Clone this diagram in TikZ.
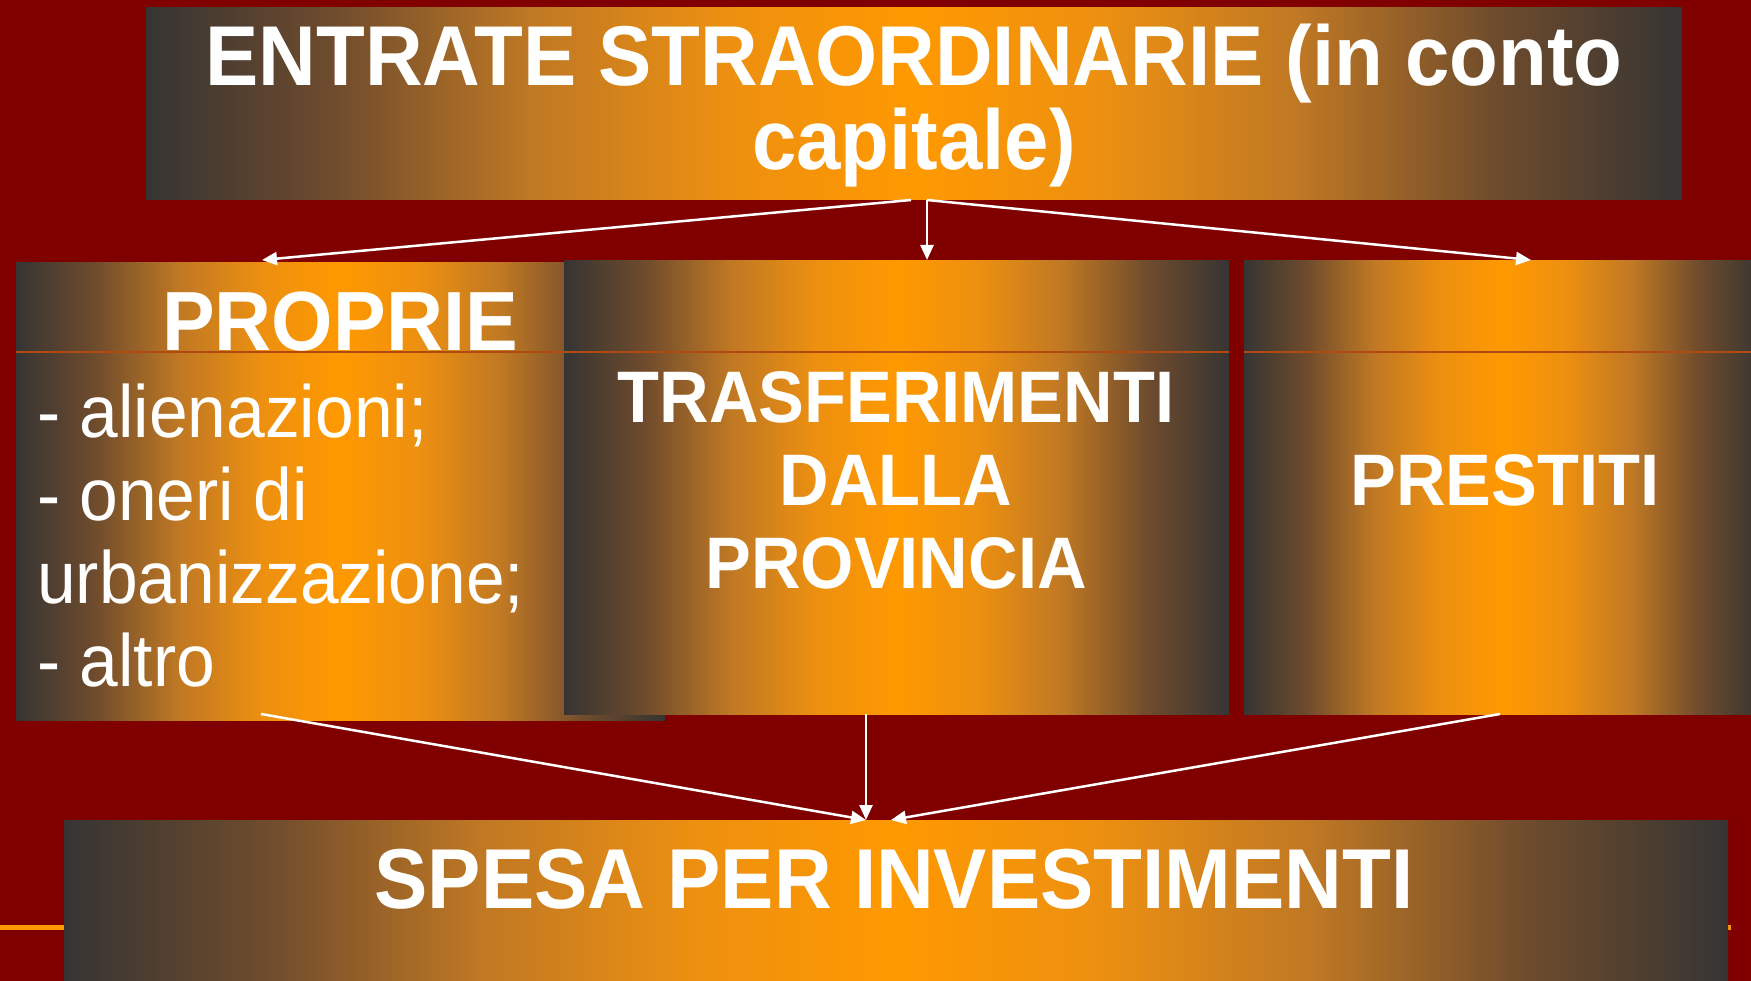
\documentclass[tikz,border=0pt]{standalone}
\usepackage{fontspec}
\setmainfont{Liberation Sans}
\newfontfamily\cf[FakeStretch=0.94]{Liberation Sans}
\usetikzlibrary{arrows.meta,calc}
\definecolor{bg}{HTML}{800000}
\definecolor{dk}{HTML}{363433}
\definecolor{org}{HTML}{FF9900}
\definecolor{thinl}{HTML}{B04A10}
\pgfdeclarehorizontalshading{boxshade}{100bp}{%
  rgb(0bp)=(0.212,0.204,0.2);
  rgb(25bp)=(0.212,0.204,0.2);
  rgb(31bp)=(0.43,0.294,0.176);
  rgb(37.5bp)=(0.75,0.47,0.14);
  rgb(44bp)=(0.93,0.565,0.065);
  rgb(50bp)=(1,0.6,0);
  rgb(56bp)=(0.93,0.565,0.065);
  rgb(62.5bp)=(0.75,0.47,0.14);
  rgb(69bp)=(0.43,0.294,0.176);
  rgb(75bp)=(0.212,0.204,0.2);
  rgb(100bp)=(0.212,0.204,0.2)}
\begin{document}
\begin{tikzpicture}[x=1pt,y=-1pt,
  box/.style={rectangle, inner sep=0pt, outer sep=0pt, anchor=north west,
    shading=boxshade},
  big/.style={text=white, inner sep=0pt, anchor=base, font=\cf\bfseries\fontsize{85}{85}\selectfont},
  mid/.style={text=white, inner sep=0pt, anchor=base, font=\cf\bfseries\fontsize{73}{73}\selectfont},
  item/.style={text=white, inner sep=0pt, anchor=base west, font=\cf\fontsize{74}{74}\selectfont},
  arr/.style={draw=white, line width=2.5pt, -{Triangle[length=15pt,width=13pt]}}]
\clip (0,0) rectangle (1751,981);
\fill[bg] (0,0) rectangle (1751,981);
% boxes
\node[box, minimum width=1536pt, minimum height=192pt] (top) at (146,8) {};
\draw[org, line width=5pt] (0,927) -- (1731,927);
\node[box, minimum width=649pt, minimum height=457pt] (prop) at (16,263) {};
\node[box, minimum width=665pt, minimum height=453pt] (trasf) at (564,261) {};
\node[box, minimum width=518pt, minimum height=453pt] (prest) at (1244,261) {};
\draw[thinl, line width=1.4pt] (16,352) -- (1229,352);
\draw[thinl, line width=1.4pt] (1244,352) -- (1751,352);
\node[box, minimum width=1664pt, minimum height=200pt] (spesa) at (64,820) {};
% texts
\node[big, font=\cf\bfseries\fontsize{84.9}{84.9}\selectfont] (t1) at (914,86) {ENTRATE STRAORDINARIE (in conto};
\node[big, font=\cf\bfseries\fontsize{84.9}{84.9}\selectfont] (t2) at (914,170) {capitale)};
\node[big, font=\cf\bfseries\fontsize{84}{84}\selectfont] (p) at (340,351) {PROPRIE};
\node[item] (i1) at (37,437) {- alienazioni;};
\node[item] (i2) at (37,520) {- oneri di};
\node[item] (i3) at (37,603) {urbanizzazione;};
\node[item] (i4) at (37,686) {- altro};
\node[mid] (m1) at (896,422) {TRASFERIMENTI};
\node[mid] (m2) at (896,505) {DALLA};
\node[mid] (m3) at (896,588) {PROVINCIA};
\node[mid] (pr) at (1505,505) {PRESTITI};
\node[big] (sp) at (894,908) {SPESA PER INVESTIMENTI};
% connector end points
\coordinate (a0) at ($(top.south)+(-3,0)$);
\coordinate (a1) at ($(top.south)+(13,0)$);
\coordinate (e1) at (262,260);
\coordinate (e2) at ($(top.south)+(13,60)$);
\coordinate (e3) at (1531,260);
\coordinate (b1) at (261,714);
\coordinate (b2) at (866,714);
\coordinate (b3) at (1500,714);
\coordinate (f1) at (866,820);
\coordinate (f3) at (891,820);
\draw[arr] (a0) -- (e1);
\draw[arr] (a1) -- (e2);
\draw[arr] (a1) -- (e3);
\draw[arr] (b1) -- (f1);
\draw[arr] (b2) -- (f1);
\draw[arr] (b3) -- (f3);
\end{tikzpicture}
\end{document}
